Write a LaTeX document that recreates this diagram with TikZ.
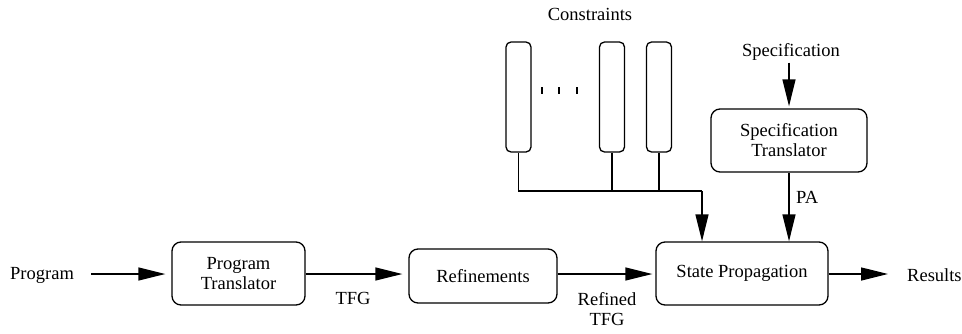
\documentclass[tikz,border=0pt]{standalone}
\usepackage{fontspec}
\setmainfont{Liberation Serif}
\usetikzlibrary{arrows.meta}
\begin{document}
\begin{tikzpicture}[x=1pt,y=-1pt,
  every node/.style={font=\fontsize{18.5}{20}\selectfont, inner sep=0pt, align=center},
  block/.style={draw, line width=1.3pt, rounded corners=9pt},
  cbox/.style={draw, line width=1.3pt, rounded corners=5pt, minimum width=25pt, minimum height=110pt},
  wire/.style={line width=1.3pt},
  flow/.style={wire, -{Triangle[length=27pt,width=13pt]}}
]
\useasboundingbox (0,0) rectangle (962,333);

% main chain
\node[anchor=west] (prog) at (10,275) {Program};
\node[block, minimum width=133pt, minimum height=63pt] (pt) at (238.5,273.5) {Program\\Translator};
\node[block, minimum width=148pt, minimum height=54pt] (ref) at (483,276) {Refinements};
\node[block, minimum width=172pt, minimum height=63pt] (sp) at (742,273.5) {State Propagation};
\node[anchor=west] (res) at (907,275) {Results};

\draw[flow, shorten >=6pt] (91,274) -- (pt.west |- 0,274);
\draw[flow, shorten >=6pt] (pt.east |- 0,274) -- (ref.west |- 0,274);
\draw[flow, shorten >=3pt] (ref.east |- 0,274) -- (sp.west |- 0,274);
\draw[flow] (sp.east |- 0,274) -- (888,274);

\node (tfg) at (353,298) {TFG};
\node (rtfg) at (607,309) {Refined\\TFG};

% constraints
\node (cons) at (590,14) {Constraints};
\node[cbox] (c1) at (518.5,97) {};
\node[cbox] (c2) at (612,97) {};
\node[cbox] (c3) at (659,97) {};
\foreach \xx in {542,559,577} \draw[wire] (\xx,87) -- (\xx,94);
\coordinate (j) at (702,191);
\draw[wire] (c1.south) |- (j);
\draw[wire] (c2.south) -- (c2.south |- j);
\draw[wire] (c3.south) -- (c3.south |- j);
\draw[flow] (j) -- (j |- sp.north);

% specification
\node (spec) at (791,52) {Specification};
\node[block, minimum width=156pt, minimum height=63pt] (st) at (789,140.5) {Specification\\Translator};
\draw[flow, shorten >=2pt] (spec.south -| st.north) ++(0,2) -- (st.north);
\draw[flow] (st.south) -- (st.south |- sp.north);
\node[anchor=west] (pa) at (796,197) {PA};
\end{tikzpicture}
\end{document}
